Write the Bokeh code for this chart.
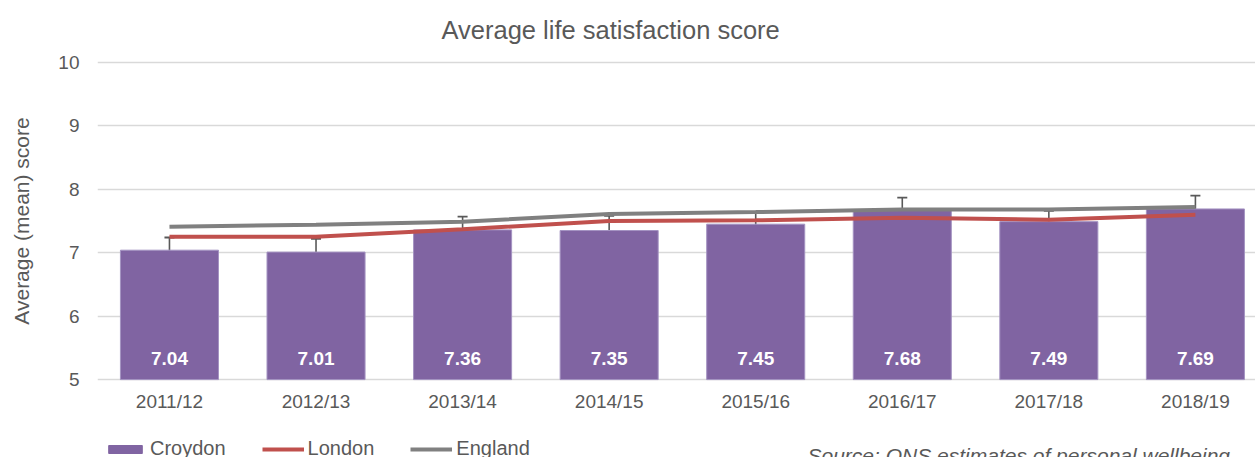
from bokeh.plotting import figure
from bokeh.layouts import column
from bokeh.models import (ColumnDataSource, Range1d, FixedTicker, Label, Legend,
                          LegendItem, Whisker, TeeHead)
from bokeh.core.properties import value
from bokeh.embed import file_html
from bokeh.resources import INLINE

years = ["2011/12", "2012/13", "2013/14", "2014/15", "2015/16", "2016/17", "2017/18", "2018/19"]
croydon = [7.04, 7.01, 7.36, 7.35, 7.45, 7.68, 7.49, 7.69]
croydon_lower = [6.84, 6.80, 7.18, 7.12, 7.25, 7.50, 7.32, 7.50]
croydon_upper = [7.24, 7.22, 7.57, 7.58, 7.64, 7.87, 7.66, 7.90]
london = [7.25, 7.25, 7.37, 7.50, 7.51, 7.55, 7.52, 7.60]
england = [7.41, 7.44, 7.49, 7.61, 7.64, 7.68, 7.68, 7.72]
y_ticks = [5, 6, 7, 8, 9, 10]

FONT = "Liberation Sans"
GREY_TXT = "#595959"
PURPLE = "#8064A2"
RED = "#C0504D"
GREY = "#808080"

idx = list(range(len(years)))
src = ColumnDataSource(dict(
    x=idx, croydon=croydon, lower=croydon_lower, upper=croydon_upper,
    london=london, england=england, label=[f"{v:.2f}" for v in croydon],
))

X0, X1 = -0.491, 7.41
Y0, Y1 = 4.97, 10.03
W = 1255
H_MAIN = 427
H_FOOT = 30
LEFT = 97

p = figure(width=W, height=H_MAIN, x_range=Range1d(X0, X1), y_range=Range1d(Y0, Y1),
           output_backend="svg", toolbar_location=None,
           min_border_left=LEFT, min_border_right=0, min_border_top=60, min_border_bottom=46)
p.outline_line_color = None
p.background_fill_color = "white"
p.border_fill_color = "white"

def yd(py):
    # page pixel y -> data y (frame top 60, bottom 381)
    return Y0 + (381 - py) * (Y1 - Y0) / 321.0

bars = p.vbar(x="x", top="croydon", bottom=5, width=0.669, source=src,
              fill_color=PURPLE, line_color="#A493C2", line_width=1)
lon = p.line(x="x", y="london", source=src, line_color=RED, line_width=4)
eng = p.line(x="x", y="england", source=src, line_color=GREY, line_width=4)

wh = Whisker(base="x", upper="upper", lower="lower", source=src,
             line_color=GREY_TXT, line_width=1.6,
             upper_head=TeeHead(size=10, line_color=GREY_TXT, line_width=1.8),
             lower_head=TeeHead(size=10, line_color=GREY_TXT, line_width=1.8))
p.add_layout(wh)

p.text(x="x", y=yd(358), text="label", source=src, text_color="white",
       text_font=value(FONT), text_font_style="bold", text_font_size="19px",
       text_align="center", text_baseline="middle")

# axes
p.xaxis.ticker = FixedTicker(ticks=idx)
p.xaxis.major_label_overrides = {i: y for i, y in zip(idx, years)}
p.yaxis.ticker = FixedTicker(ticks=y_ticks)
for ax in (p.xaxis, p.yaxis):
    ax.axis_line_color = None
    ax.major_tick_line_color = None
    ax.minor_tick_line_color = None
    ax.major_tick_out = 0
    ax.major_tick_in = 0
    ax.minor_tick_out = 0
    ax.minor_tick_in = 0
    ax.major_label_text_font = FONT
    ax.major_label_text_font_size = "19px"
    ax.major_label_text_color = GREY_TXT
p.xaxis.major_label_standoff = 9
p.yaxis.major_label_standoff = 18
p.yaxis.axis_label = "Average (mean) score"
p.yaxis.axis_label_text_font = FONT
p.yaxis.axis_label_text_font_size = "21px"
p.yaxis.axis_label_text_font_style = "normal"
p.yaxis.axis_label_text_color = GREY_TXT
p.yaxis.axis_label_standoff = 22

p.xgrid.grid_line_color = None
p.ygrid.grid_line_color = "#D9D9D9"
p.ygrid.grid_line_width = 1.5
p.ygrid.ticker = FixedTicker(ticks=y_ticks)

# title
p.title.text = "Average life satisfaction score"
p.title.align = "left"
p.title.offset = 441 - LEFT
p.title.text_font = FONT
p.title.text_font_size = "25.5px"
p.title.text_font_style = "normal"
p.title.text_color = GREY_TXT
p.title.vertical_align = "top"
p.title.standoff = 30

# footer: legend + source (frame aligned with main frame: page x LEFT..W)
f = figure(width=W, height=H_FOOT, x_range=Range1d(LEFT, W), y_range=Range1d(0, H_FOOT),
           output_backend="svg", toolbar_location=None, title=None,
           x_axis_location=None, y_axis_location=None,
           min_border_left=LEFT, min_border_right=0, min_border_top=0, min_border_bottom=0)
f.grid.visible = False
f.outline_line_color = None
f.background_fill_color = "white"
f.border_fill_color = "white"

lb = f.vbar(x="x", top="croydon", width=0.669, source=src, fill_color=PURPLE,
            line_color=PURPLE, visible=False)
ll = f.line(x="x", y="london", source=src, line_color=RED, line_width=4, visible=False)
le = f.line(x="x", y="england", source=src, line_color=GREY, line_width=4, visible=False)

legend = Legend(items=[LegendItem(label="Croydon", renderers=[lb]),
                       LegendItem(label="London", renderers=[ll]),
                       LegendItem(label="England", renderers=[le])],
                location=(104 - LEFT, -3), orientation="horizontal",
                glyph_width=42, glyph_height=10, label_standoff=4, spacing=36,
                padding=0, margin=0, border_line_color=None, background_fill_alpha=0,
                inactive_fill_alpha=0,
                label_text_font=FONT, label_text_font_size="20px", label_text_color=GREY_TXT)
f.add_layout(legend, "center")

f.add_layout(Label(x=807, y=2,
                   text="Source: ONS estimates of personal wellbeing",
                   text_font=FONT, text_font_size="21px", text_font_style="italic",
                   text_color=GREY_TXT, text_align="left", text_baseline="alphabetic"))

layout = column(p, f, spacing=0)
open("out.html", "w").write(file_html(layout, INLINE))
